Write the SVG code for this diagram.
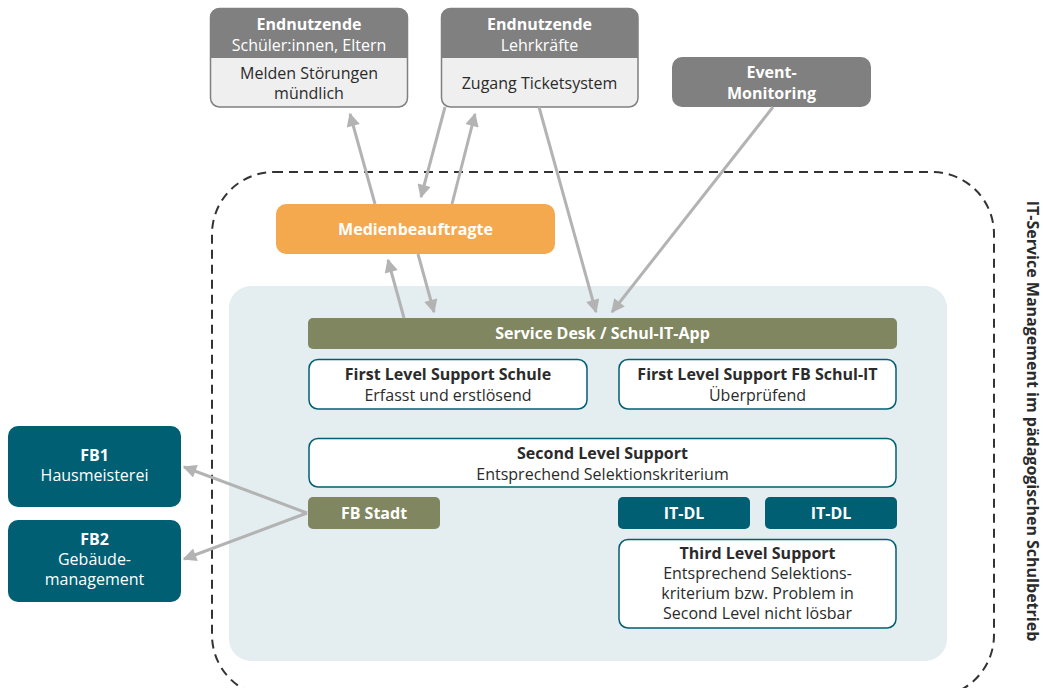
<svg xmlns="http://www.w3.org/2000/svg" width="1043" height="688" viewBox="0 0 1043 688">
  <style>
    text { font-family: "Open Sans", "Noto Sans", "Liberation Sans", sans-serif; font-size: 16px; text-anchor: middle; }
    .b { font-weight: bold; }
    .w { fill: #ffffff; }
    .d { fill: #2b2b2b; }
    .head { fill: #808080; }
    .body { fill: #efefef; stroke: #808080; stroke-width: 1.5; }
    .olive { fill: #808660; }
    .teal { fill: #005f72; }
    .card { fill: #ffffff; stroke: #005f72; stroke-width: 1.5; }
    .conn { stroke: #b3b3b3; stroke-width: 3; fill: none; marker-end: url(#ah); }
  </style>
  <defs>
    <marker id="ah" viewBox="0 0 10 10" refX="9" refY="5" markerWidth="5" markerHeight="4.5" markerUnits="strokeWidth" orient="auto">
      <path d="M0,0 L10,5 L0,10 z" fill="#b3b3b3"/>
    </marker>
  </defs>

  <rect width="1043" height="688" fill="#ffffff"/>

  <!-- scope boundary -->
  <rect id="scope" x="212" y="172" width="782" height="525" rx="62" ry="62" fill="none" stroke="#333333" stroke-width="2" stroke-dasharray="9 6"/>
  <text x="0" y="0" class="b d" font-size="15.2" transform="translate(1027,421) rotate(90)">IT-Service Management im pädagogischen Schulbetrieb</text>

  <!-- school IT area -->
  <rect id="area" x="229" y="286" width="718" height="375" rx="22" ry="22" fill="#e4edf0"/>

  <!-- end users: pupils and parents -->
  <g id="eu-schueler">
    <rect class="body" x="210.5" y="8.5" width="197" height="98.5" rx="9"/>
    <path class="head" d="M210,58 V18 a10,10 0 0 1 10,-10 H398 a10,10 0 0 1 10,10 V58 z"/>
    <text x="309" y="30" class="b w">Endnutzende</text>
    <text x="309" y="51" class="w">Schüler:innen, Eltern</text>
    <text x="309" y="79" class="d">Melden Störungen</text>
    <text x="309" y="99" class="d">mündlich</text>
  </g>

  <!-- end users: teachers -->
  <g id="eu-lehrkraefte">
    <rect class="body" x="441.5" y="8.5" width="196.5" height="98.5" rx="9"/>
    <path class="head" d="M441,58 V18 a10,10 0 0 1 10,-10 H628 a10,10 0 0 1 10,10 V58 z"/>
    <text x="539.5" y="30" class="b w">Endnutzende</text>
    <text x="539.5" y="51" class="w">Lehrkräfte</text>
    <text x="539.5" y="89" class="d">Zugang Ticketsystem</text>
  </g>

  <g id="event-monitoring">
    <rect class="head" x="672" y="57" width="199" height="50" rx="10"/>
    <text x="771.5" y="78" class="b w">Event-</text>
    <text x="771.5" y="99" class="b w">Monitoring</text>
  </g>

  <g id="medienbeauftragte">
    <rect x="276" y="204" width="279" height="50" rx="10" fill="#f5a94e"/>
    <text x="415.5" y="235" class="b w">Medienbeauftragte</text>
  </g>

  <g id="service-desk">
    <rect class="olive" x="308" y="318" width="589" height="31" rx="5"/>
    <text x="602.5" y="339" class="b w">Service Desk / Schul-IT-App</text>
  </g>

  <g id="fls-schule">
    <rect class="card" x="309" y="359.5" width="278" height="49.5" rx="9"/>
    <text x="448" y="380" class="b d">First Level Support Schule</text>
    <text x="448" y="400.5" class="d">Erfasst und erstlösend</text>
  </g>

  <g id="fls-fb">
    <rect class="card" x="619" y="359.5" width="277" height="49.5" rx="9"/>
    <text x="757.5" y="380" class="b d">First Level Support FB Schul-IT</text>
    <text x="757.5" y="400.5" class="d">Überprüfend</text>
  </g>

  <g id="sls">
    <rect class="card" x="309" y="438.5" width="587" height="48.5" rx="9"/>
    <text x="602.5" y="459" class="b d">Second Level Support</text>
    <text x="602.5" y="479.5" class="d">Entsprechend Selektionskriterium</text>
  </g>

  <g id="fb-stadt">
    <rect class="olive" x="308" y="497" width="132" height="32" rx="5"/>
    <text x="374" y="519" class="b w">FB Stadt</text>
  </g>

  <g id="it-dl-1">
    <rect class="teal" x="618" y="497" width="132" height="32" rx="5"/>
    <text x="684" y="519" class="b w">IT-DL</text>
  </g>

  <g id="it-dl-2">
    <rect class="teal" x="765" y="497" width="132" height="32" rx="5"/>
    <text x="831" y="519" class="b w">IT-DL</text>
  </g>

  <g id="tls">
    <rect class="card" x="619" y="539.5" width="277" height="88.5" rx="9"/>
    <text x="757.5" y="559" class="b d">Third Level Support</text>
    <text x="757.5" y="579" class="d">Entsprechend Selektions-</text>
    <text x="757.5" y="599" class="d">kriterium bzw. Problem in</text>
    <text x="757.5" y="619" class="d">Second Level nicht lösbar</text>
  </g>

  <g id="fb1">
    <rect class="teal" x="8" y="426" width="173" height="81" rx="10"/>
    <text x="94.5" y="461" class="b w">FB1</text>
    <text x="94.5" y="481" class="w">Hausmeisterei</text>
  </g>

  <g id="fb2">
    <rect class="teal" x="8" y="520" width="173" height="82" rx="10"/>
    <text x="94.5" y="545" class="b w">FB2</text>
    <text x="94.5" y="565" class="w">Gebäude-</text>
    <text x="94.5" y="585" class="w">management</text>
  </g>

  <!-- connectors -->
  <g id="connectors">
    <line class="conn" x1="375" y1="204" x2="350" y2="114"/>
    <line class="conn" x1="445" y1="107" x2="421" y2="197"/>
    <line class="conn" x1="452" y1="204" x2="475" y2="114"/>
    <line class="conn" x1="539" y1="107" x2="596" y2="312"/>
    <line class="conn" x1="773" y1="107" x2="612" y2="312"/>
    <line class="conn" x1="404" y1="318" x2="388" y2="260"/>
    <line class="conn" x1="418" y1="254" x2="434" y2="312"/>
    <line class="conn" x1="307" y1="513" x2="184" y2="467"/>
    <line class="conn" x1="307" y1="513" x2="184" y2="559"/>
  </g>
</svg>
